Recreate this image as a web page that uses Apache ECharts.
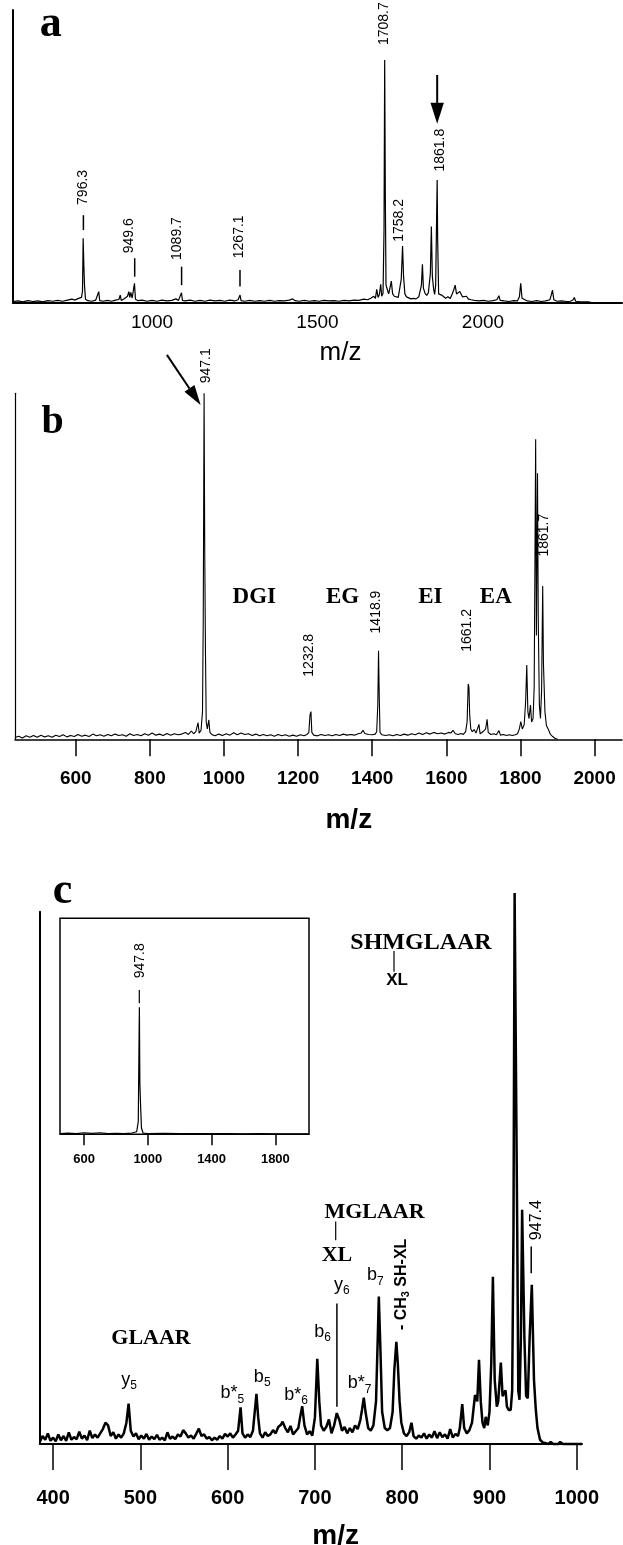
<!DOCTYPE html>
<html><head><meta charset="utf-8">
<script src="https://cdn.jsdelivr.net/npm/echarts@6/dist/echarts.min.js"></script>
<style>html,body{margin:0;padding:0;background:#fff}#chart{width:623px;height:1545px}</style>
</head><body><div id="chart"></div>
<script>
// ---------------- DATA ----------------
// Panel a: MALDI spectrum (m/z, relative intensity %)
const aMz = [580,595,610,625,640,655,670,685,700,715,730,745,758,768,776,782,787,790,792,794,796,799,806,818,830,836,839,842,852,865,878,890,900,904,907,914,920,926,930,933,936,940,944,947,950,958,970,985,1000,1015,1030,1045,1060,1072,1080,1086,1089,1092,1100,1115,1130,1145,1160,1175,1190,1205,1220,1235,1250,1260,1263,1266,1269,1280,1295,1310,1325,1340,1355,1370,1385,1400,1415,1425,1432,1445,1460,1475,1490,1505,1520,1535,1550,1565,1580,1595,1610,1625,1640,1652,1662,1670,1675,1679,1683,1687,1691,1694,1698,1701,1703,1705,1707,1711,1715,1719,1723,1727,1732,1738,1744,1749,1753,1757,1760,1764,1769,1775,1782,1790,1798,1806,1811,1814,1817,1820,1825,1830,1835,1838,1841,1844,1847,1851,1854,1857,1860,1861.6,1863,1866,1870,1875,1880,1887,1894,1901,1907,1912,1916,1920,1925,1930,1934,1938,1944,1950,1956,1964,1974,1988,2002,2016,2030,2042,2048,2052,2064,2078,2092,2104,2110,2114,2118,2124,2134,2148,2162,2176,2190,2202,2206,2210,2214,2224,2238,2252,2264,2272,2276,2280,2292,2306,2318,2328];
const aInt = [0.4,0.6,0.3,0.7,0.4,0.6,0.3,0.7,0.5,0.8,0.5,0.9,1.2,0.9,1.4,1.1,1.8,4,22,13,6,1.2,0.7,0.5,0.9,0.7,3.8,0.7,0.5,0.8,0.5,0.9,1.1,2.6,0.8,1.2,1.0,2.2,3.8,1.8,3.5,1.6,2.2,6.6,1.2,0.7,0.9,0.5,0.8,0.5,0.9,0.6,0.8,1.3,0.8,1.2,3.4,0.8,0.6,0.9,0.5,0.8,0.5,0.9,0.6,0.8,0.5,0.9,0.6,1.0,0.8,2.6,0.7,0.5,0.8,0.5,0.7,0.5,0.8,0.5,0.7,0.6,0.9,1.3,0.7,0.5,0.8,0.5,0.7,0.5,0.8,0.6,0.7,0.5,0.8,0.6,0.9,0.8,1.2,1.0,1.6,2.2,1.5,4.6,1.8,2.8,6.3,2.2,3.2,25,82.9,35,6,4.5,3,5,7.4,3,2.2,2.5,1.8,2.4,8,19.4,9,3,2,1.6,1.3,1.5,1.3,2,2.5,6,13.1,5,3.2,2.5,3.4,3,10,26,9,4.5,2.8,6,30,41.9,22,3,3.5,2.6,2,1.5,2,1.4,3,4.5,6,3,2.4,3.8,3.2,2,1.6,2.2,1.2,1,0.8,0.6,0.8,0.5,0.7,1,2.4,0.8,0.6,0.4,0.7,0.6,2,6.6,1.5,1,0.6,0.4,0.7,0.4,0.6,1,2.5,4.3,1,0.5,0.6,0.4,0.5,0.9,1.8,0.5,0.4,0.3,0.3,0];

// Panel b: MS/MS spectrum of 1861.8
const bMz = [436,446,456,466,476,486,496,506,516,526,536,546,556,566,576,586,596,606,616,626,636,646,656,666,676,686,696,706,716,726,736,746,756,766,776,786,796,806,816,826,836,846,856,866,876,886,896,904,912,918,924,930,933,938,942,944,946.3,948,950,952,955,959,962,968,976,986,996,1006,1016,1026,1036,1046,1056,1066,1076,1086,1096,1106,1116,1126,1136,1146,1156,1166,1176,1186,1196,1206,1216,1224,1229,1232,1234.6,1237,1242,1252,1262,1272,1282,1292,1302,1312,1322,1332,1342,1352,1362,1370,1375,1380,1390,1400,1408,1412,1415,1417,1419,1421,1426,1436,1446,1456,1466,1476,1486,1496,1506,1516,1526,1536,1546,1556,1566,1576,1586,1596,1606,1612,1618,1624,1632,1640,1646,1652,1656,1659,1661,1663,1666,1670,1675,1680,1685,1688,1691,1696,1701,1706,1710,1713,1720,1728,1735,1742,1746,1754,1762,1770,1778,1786,1792,1797,1801,1805,1810,1814,1817,1820,1823,1827,1830,1834,1837,1839,1841,1843,1846,1848,1851,1854,1857,1860,1862,1866,1870,1876,1881,1887,1893,1900];
const bInt = [0.5,0.9,0.4,1.0,0.6,1.1,0.6,1.2,0.7,1.0,0.6,1.2,0.8,1.3,0.7,1.1,0.8,1.4,0.9,1.2,0.8,1.5,1.0,1.3,0.9,1.4,1.0,1.5,1.1,1.3,0.9,1.6,1.1,1.4,1.0,1.6,1.2,1.8,1.2,1.5,1.1,1.7,1.2,1.6,1.3,1.5,2.0,1.4,2.4,1.6,2.2,4.8,1.8,2.6,8,35,100,55,25,5,3,5.6,2,1.3,1.0,1.5,1.1,1.6,1.2,1.9,1.3,1.8,1.4,1.6,1.1,1.5,1.0,1.4,1.0,1.3,0.9,1.4,1.0,1.3,0.9,1.2,0.9,1.3,1.0,1.4,2,7,8,2,1.2,1.0,1.4,1.1,1.3,1.0,1.4,1.1,1.5,1.2,1.4,1.2,1.6,1.8,2.6,1.7,1.4,1.3,1.5,2.2,10,25.6,12,2,1.3,1.1,1.3,1.0,1.4,1.1,1.5,1.2,1.6,1.3,1.8,1.4,1.9,1.5,2.0,1.6,1.8,1.5,2.0,1.8,2.6,1.6,1.4,1.7,1.4,2.2,5,16,15,7,3,2.2,2.8,1.8,2.2,4.3,1.6,2,2.4,3,5.8,2,1.4,1.6,1.3,2.5,1.2,1.4,1.1,1.3,1.1,1.3,1.6,3,5.1,3,4.2,11,21.5,8,6,9.9,5,6,15,50,86.7,30,76.9,35,10,6,14,44.3,22,8,4,2.7,1.4,0.8,0.3,0];

// Panel c: MS/MS/MS spectrum of 947 (low mass region)
const cMz = [385,388,391,394,397,400,403,406,409,412,415,418,421,424,427,430,433,436,439,442,445,448,451,454,457,460,463,466,469,472,475,478,481,484,486.5,489,492,495,498,501,504,507,510,513,516,519,522,525,528,531,534,537,540,543,546,549,552,555,558,561,564,567,570,573,576,579,582,585,588,591,594,597,600,603,606,609,612,614.8,617,620,623,626,629,631,633,635,637,640,643,646,649,652,655,658,661,663,666,669,672,675,678,681,683,685.4,688,691,694,697,700,702.7,705,707,710,713,716,719,722,725,728,731,734,737,740,743,746,749,752,754,756,758,761,764,767,770,772,773.2,775,777,780,783,786,789,791,793.3,795,797,799,802,805,808,810.6,813,816,819,822,825,828,831,834,837,840,843,846,849,852,855,858,861,864,866,868.8,871,874,877,880,883.4,886,888,890,892,894,895.7,898,900,902,903.9,906,908.4,910,913,915,918.4,920,922,924.3,926,927.5,928.8,930.6,931.8,933,934.4,936,937.4,938.6,940,942,943.9,946,948.5,951,953,955,957.9,961,963,968,970,973,979,981,984,1006];
const cInt = [0.5,1.5,0.8,2.0,0.6,1.2,0.5,1.8,0.7,1.5,0.6,2.2,0.8,1.3,0.9,2.3,1.0,1.6,0.7,2.5,1.1,1.8,1.2,2.0,2.8,4.0,3.5,1.5,2.2,1.0,1.8,1.2,2.0,4,7.6,2.5,1.4,2.0,0.9,1.6,1.0,1.9,0.8,1.4,0.9,1.7,0.8,1.2,0.7,2.2,1.0,1.4,0.9,1.8,1.4,2.6,2.0,1.2,1.6,1.0,1.9,2.9,1.5,1.8,1.0,1.3,0.7,1.2,0.8,1.5,1.0,1.9,1.4,2.0,1.2,1.8,2.5,6.9,2.0,1.2,1.8,1.3,2.5,6,9.4,5,2.0,1.2,2.2,1.5,1.8,2.6,2.0,3.2,3.6,4.2,3.0,2.2,3.4,1.8,2.4,3,5,7.1,3.5,1.8,2.4,1.6,5,16,8,3.5,2.5,3.2,4.6,2.0,3.5,5.8,4.5,2.5,3.2,2.0,3.0,2.2,3.5,2.8,4.5,6.5,8.7,6,3.0,2.5,3.5,8,20,27.7,18,6,3.0,2.6,3.0,6,14,19.2,15,8,4,2.0,1.5,2.2,4.0,1.5,1.0,1.6,1.2,2.0,1.0,1.8,1.2,2.4,1.1,2.2,1.3,1.8,1.0,2.8,1.2,1.9,1.5,3,7.5,3.0,2.0,2.6,4.0,9.2,8,15.8,8,4,3,5.1,3.5,6,15,31.4,12,7.0,8,15.3,9,10.1,7,6.4,6.4,10,40,103.5,103.5,40,10,8.3,20,44.0,44.0,20,9,8.6,20,29.9,12,6.6,3,0.8,0.3,0.1,0,0.4,0,0,0.4,0,0];

// Inset of panel c: full-range spectrum
const insetMz = [449,500,550,600,650,700,750,800,850,900,930,940,945,947,950,955,960,970,1000,1100,1200,1300,1400,1500,1600,1700,1800,1900,2011];
const insetInt = [0.5,1,0.5,1.2,0.8,1.2,0.5,0.8,0.6,1,2,10,76,100,40,21,5,1,0.5,0.8,0.5,0.6,0.5,0.6,0.4,0.5,0.4,0.3,0.3];

// Tick labels
const aTicks = [1000,1500,2000];
const bTicks = [600,800,1000,1200,1400,1600,1800,2000];
const cTicks = [400,500,600,700,800,900,1000];
const insetTicks = [600,1000,1400,1800];

// Peak labels
const aPeakLabels = ['796.3','949.6','1089.7','1267.1','1708.7','1758.2','1861.8'];
const bPeakLabels = ['947.1','1232.8','1418.9','1661.2','1861.7'];
const bSeqLabels = ['DGI','EG','EI','EA'];

// ---------------- LAYOUT ----------------
const SANS = '"Liberation Sans", Arial, Helvetica, sans-serif';
const SERIF = '"Liberation Serif", "Times New Roman", serif';
const pairs = (xs, ys) => xs.map((x, i) => [x, ys[i]]);

const GR = [
  {left:13, top:10, width:609, height:292.7},     // a
  {left:15, top:393.3, width:607, height:346},    // b
  {left:40, top:911.7, width:542, height:532.3},  // c
  {left:60, top:918.3, width:249, height:216}     // inset
];
const XR = [[580,2420],[436,2074],[385,1006],[449,2011]];
const YR = [[0,100],[0,100],[0,100],[0,170]];

function xAxisCfg(i, ticks, o) {
  return {
    gridIndex:i, type:'value', min:XR[i][0], max:XR[i][1],
    axisLine:{show:o.line!==false, onZero:false, lineStyle:{color:'#000', width:o.lw||1.5}},
    axisTick:{show:!!o.tickLen, customValues:ticks, length:o.tickLen||0, lineStyle:{color:'#000', width:1.5}},
    axisLabel:{customValues:ticks, formatter:v => String(v), color:'#000', fontFamily:SANS, fontSize:o.fs,
      fontWeight:o.bold?'bold':'normal', margin:o.margin},
    splitLine:{show:false}
  };
}
function yAxisCfg(i, show, lw) {
  return {
    gridIndex:i, type:'value', min:YR[i][0], max:YR[i][1], show:show,
    axisLine:{show:true, onZero:false, lineStyle:{color:'#000', width:lw}},
    axisTick:{show:false}, axisLabel:{show:false}, splitLine:{show:false}
  };
}
function lineSeries(i, xs, ys, w) {
  return {type:'line', xAxisIndex:i, yAxisIndex:i, data:pairs(xs, ys), showSymbol:false, symbol:'none',
    clip:false, lineStyle:{color:'#000', width:w}, animation:false, silent:true};
}

const chart = echarts.init(document.getElementById('chart'), null, {renderer:'canvas'});
chart.setOption({
  animation:false,
  backgroundColor:'#fff',
  grid: GR.map((g, i) => Object.assign({containLabel:false}, g,
    i === 3 ? {show:true, borderColor:'#000', borderWidth:1.5, backgroundColor:'transparent'} : {})),
  xAxis: [
    xAxisCfg(0, aTicks, {lw:2, fs:19, bold:false, margin:11}),
    xAxisCfg(1, bTicks, {lw:1.5, tickLen:17, fs:19, bold:true, margin:29.5}),
    xAxisCfg(2, cTicks, {lw:2, tickLen:26, fs:20, bold:true, margin:44}),
    xAxisCfg(3, insetTicks, {line:false, tickLen:11, fs:13, bold:true, margin:19})
  ],
  yAxis: [yAxisCfg(0, true, 2), yAxisCfg(1, true, 1.2), yAxisCfg(2, true, 2), yAxisCfg(3, false, 1)],
  series: [
    lineSeries(0, aMz, aInt, 1.2),
    lineSeries(1, bMz, bInt, 1.1),
    lineSeries(2, cMz, cInt, 2.5),
    lineSeries(3, insetMz, insetInt, 1.2)
  ]
});

// ---------- annotations ----------
const cv = document.createElement('canvas').getContext('2d');
const tw = (s, f) => { cv.font = f; return cv.measureText(s).width; };
const P = (g, mz, v) => chart.convertToPixel({gridIndex:g}, [mz, v]);
const f = (size, fam, bold) => (bold ? 'bold ' : '') + size + 'px ' + fam;

function T(x, y, s, font, align) {
  return {type:'text', x:x, y:y, silent:true, z:100,
    style:{text:s, font:font, fill:'#000', align:align||'center', verticalAlign:'middle',
      textAlign:align||'center', textVerticalAlign:'middle'}};
}
function L(x1, y1, x2, y2, w) {
  return {type:'line', silent:true, z:100, shape:{x1:x1, y1:y1, x2:x2, y2:y2}, style:{stroke:'#000', lineWidth:w||1.2}};
}
// rotated label (reads bottom to top), anchored at its lower end
function R(x, y, parts) {
  let cx = 0; const kids = [];
  parts.forEach(p => {
    kids.push({type:'text', x:cx, y:p.dy||0, silent:true,
      style:{text:p.t, font:p.f, fill:'#000', align:'left', verticalAlign:'middle', textAlign:'left', textVerticalAlign:'middle'}});
    cx += tw(p.t, p.f);
  });
  return {type:'group', x:x, y:y, rotation:Math.PI/2, z:100, silent:true, children:kids};
}
function arrow(x1, y1, x2, y2, hl, hw, w) {
  const dx = x2 - x1, dy = y2 - y1, d = Math.hypot(dx, dy), ux = dx/d, uy = dy/d;
  const bx = x2 - ux*hl, by = y2 - uy*hl;
  return [
    L(x1, y1, bx, by, w),
    {type:'polygon', silent:true, z:100, shape:{points:[[x2,y2],[bx - uy*hw, by + ux*hw],[bx + uy*hw, by - ux*hw]]}, style:{fill:'#000'}}
  ];
}
function sub(cx, cy, main, s, fm, fs, dy) {
  const wm = tw(main, fm), ws = tw(s, fs), x0 = cx - (wm + ws)/2;
  return [T(x0, cy, main, fm, 'left'), T(x0 + wm, cy + dy, s, fs, 'left')];
}

const els = [];
// panel letters & axis titles
els.push(T(50.7, 25, 'a', f(44, SERIF, true)));
els.push(T(52.6, 423, 'b', f(40, SERIF, true)));
els.push(T(62.6, 892, 'c', f(44, SERIF, true)));
els.push(T(340.5, 353.3, 'm/z', f(26, SANS, false)));
els.push(T(348.8, 820, 'm/z', f(28, SANS, true)));
els.push(T(335.7, 1536.7, 'm/z', f(28, SANS, true)));

// panel a peak labels: [text-centre mz, text-bottom intensity, optional tick [mz, top, bottom]]
const aLay = [[792.7,33.4,[792.7,29.9,24.8]],[930.8,16.9,[947.7,15.2,8.9]],[1077.3,14.6,[1089.4,12.3,6.0]],
  [1264.6,15.2,[1265.8,11.2,5.5]],[1701.5,88.0],[1747.1,20.8],[1869.4,44.8]];
aPeakLabels.forEach((t, i) => {
  const l = aLay[i], p = P(0, l[0], l[1]);
  els.push(R(p[0], p[1], [{t:t, f:f(14, SANS, false)}]));
  if (l[2]) { const p1 = P(0, l[2][0], l[2][1]), p2 = P(0, l[2][0], l[2][2]); els.push(L(p1[0], p1[1], p2[0], p2[1], 1.5)); }
});
{ const p1 = P(0, 1861.6, 77.8), p2 = P(0, 1861.6, 61.1); els.push(...arrow(p1[0], p1[1], p2[0], p2[1], 21, 6.7, 2)); }

// panel b
const bLay = [[953.0,102.9],[1229.4,18.1],[1411.8,30.6],[1655.2,25.3],[1864.3,52.8]];
bPeakLabels.forEach((t, i) => { const p = P(1, bLay[i][0], bLay[i][1]); els.push(R(p[0], p[1], [{t:t, f:f(14, SANS, false)}])); });
{ const p1 = P(1, 845.9, 111.1), p2 = P(1, 936.9, 96.6); els.push(...arrow(p1[0], p1[1], p2[0], p2[1], 20, 6, 2)); }
const bSeqLay = [1081.8, 1319.8, 1556.7, 1733.5];
bSeqLabels.forEach((t, i) => { const p = P(1, bSeqLay[i], 41.2); els.push(T(p[0], p[1], t, f(23, SERIF, true))); });

// panel c
const FS = f(18, SANS, false), FSub = f(12, SANS, false);
{ const p = P(2, 821.5, 94.2); els.push(T(p[0], p[1], 'SHMGLAAR', f(24, SERIF, true))); }
{ const p1 = P(2, 790.6, 92.6), p2 = P(2, 790.6, 88.7); els.push(L(p1[0], p1[1], p2[0], p2[1], 1.2)); }
{ const p = P(2, 794.2, 87.2); els.push(T(p[0], p[1], 'XL', f(17, SANS, true))); }
{ const p = P(2, 768.3, 43.6); els.push(T(p[0], p[1], 'MGLAAR', f(22, SERIF, true))); }
{ const p1 = P(2, 723.8, 41.8), p2 = P(2, 723.8, 38.3); els.push(L(p1[0], p1[1], p2[0], p2[1], 1.2)); }
{ const p = P(2, 725.2, 35.5); els.push(T(p[0], p[1], 'XL', f(22, SERIF, true))); }
{ const p = P(2, 512.2, 19.9); els.push(T(p[0], p[1], 'GLAAR', f(22, SERIF, true))); }
const ionLab = [['y','5',487.1,12.0],['b*','5',605.5,9.5],['b','5',639.6,12.6],['b*','6',678.3,9.2],
  ['b','6',708.8,21.1],['y','6',730.7,29.9],['b*','7',751.2,11.4],['b','7',769.3,31.7]];
ionLab.forEach(l => { const p = P(2, l[2], l[3]); els.push(...sub(p[0], p[1], l[0], l[1], FS, FSub, 6)); });
{ const p1 = P(2, 725.2, 26.4), p2 = P(2, 725.2, 7.0); els.push(L(p1[0], p1[1], p2[0], p2[1], 1.5)); }
{ const p = P(2, 799, 21.4); const fb = f(16, SANS, true), fbs = f(11, SANS, true);
  els.push(R(p[0], p[1], [{t:'- CH', f:fb}, {t:'3', f:fbs, dy:5}, {t:' SH-XL', f:fb}])); }
{ const p = P(2, 953.7, 38.3); els.push(R(p[0], p[1], [{t:'947.4', f:f(16, SANS, false)}])); }
{ const p1 = P(2, 947.8, 37.1), p2 = P(2, 947.8, 32.1); els.push(L(p1[0], p1[1], p2[0], p2[1], 1.5)); }

// inset
{ const p = P(3, 950.9, 122.8); els.push(R(p[0], p[1], [{t:'947.8', f:f(14, SANS, false)}])); }
{ const p1 = P(3, 946.5, 113.6), p2 = P(3, 946.5, 103.1); els.push(L(p1[0], p1[1], p2[0], p2[1], 1.2)); }

chart.setOption({graphic:{elements:els}});
</script>
</body></html>
